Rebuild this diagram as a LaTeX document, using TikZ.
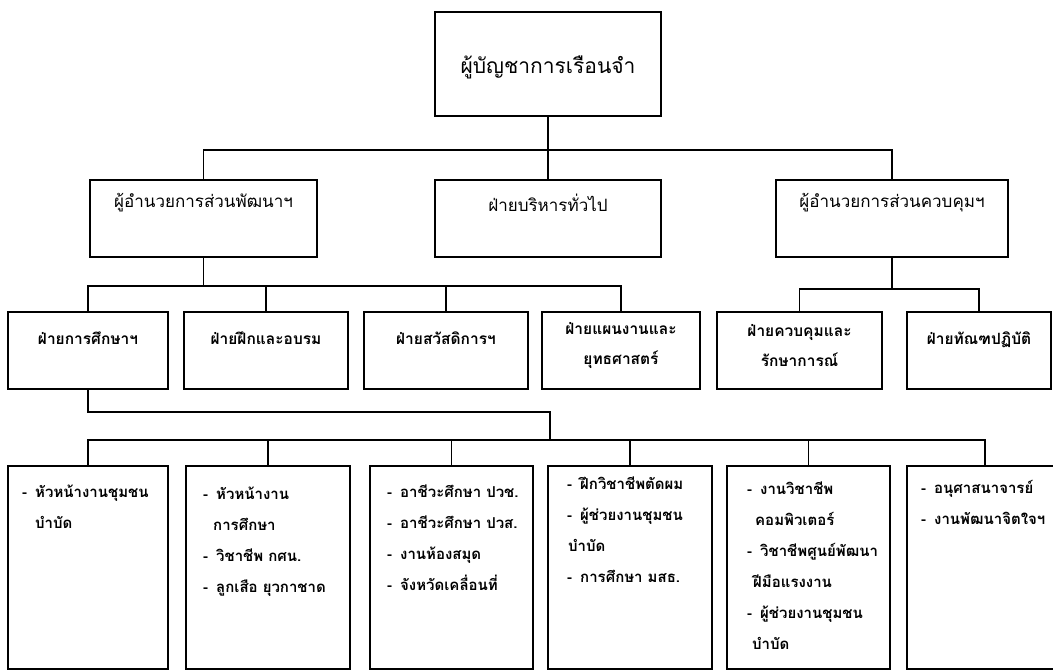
\documentclass[tikz,border=0pt]{standalone}
\usepackage{fontspec}
\newfontfamily\thai[Script=Thai]{Loma}
\usetikzlibrary{calc}

% bullet and continuation indents for the task lists
\newcommand\bl{\makebox[13pt][l]{-}}
\newcommand\ind[1]{\hspace*{#1pt}}

\tikzset{
  box/.style={draw, line width=1.3pt, inner sep=0pt},
  link/.style={line width=1.3pt},
  tone/.style={font=\thai\fontsize{21}{26}\selectfont, inner sep=0pt},
  ttwo/.style={font=\thai\fontsize{17}{22}\selectfont, inner sep=0pt},
  tthree/.style={font=\thai\bfseries\fontsize{15.5}{30}\selectfont, inner sep=0pt, align=center},
  tfour/.style={font=\thai\bfseries\fontsize{15}{31}\selectfont, inner sep=0pt, anchor=base west},
}

\begin{document}
\begin{tikzpicture}[x=1pt, y=-1pt]
\useasboundingbox (0,0) rectangle (1053,671);
\clip (0,0) rectangle (1053,671);

% ---- boxes ----
\node[box, minimum width=226, minimum height=104] (top) at (548,64) {};

\node[box, minimum width=227, minimum height=77] (A) at (203.5,218.5) {};
\node[box, minimum width=226, minimum height=77] (B) at (548,218.5) {};
\node[box, minimum width=232, minimum height=77] (C) at (892,218.5) {};

\node[box, minimum width=160, minimum height=77] (L1) at (88,350.5) {};
\node[box, minimum width=164, minimum height=77] (L2) at (266,350.5) {};
\node[box, minimum width=164, minimum height=77] (L3) at (446,350.5) {};
\node[box, minimum width=158, minimum height=77] (L4) at (621,350.5) {};
\node[box, minimum width=165, minimum height=77] (L5) at (799.5,350.5) {};
\node[box, minimum width=144, minimum height=77] (L6) at (979,350.5) {};

\node[box, minimum width=160, minimum height=203] (M1) at (88,567.5) {};
\node[box, minimum width=164, minimum height=203] (M2) at (268,567.5) {};
\node[box, minimum width=163, minimum height=203] (M3) at (451.5,567.5) {};
\node[box, minimum width=164, minimum height=203] (M4) at (630,567.5) {};
\node[box, minimum width=163, minimum height=203] (M5) at (808.5,567.5) {};
\node[box, minimum width=156, minimum height=203] (M6) at (985,567.5) {};

% ---- connectors ----
\coordinate (bus1) at (548,150);
\draw[link] (top.south) -- (B.north);
\draw[link] (A.north) |- (bus1) -| (C.north);

\coordinate (bus2) at (203.5,286);
\draw[link] (A.south) -- (bus2);
\draw[link] (L1.north) |- (bus2) -| (L4.north);
\draw[link] (L2.north) -- (L2.north |- bus2);
\draw[link] (L3.north) -- (L3.north |- bus2);

\coordinate (bus3) at (892,289);
\draw[link] (C.south) -- (bus3);
\draw[link] (L5.north) |- (bus3) -| (L6.north);

\coordinate (j1) at (550,412);
\coordinate (bus4) at (550,440);
\draw[link] (L1.south) |- (j1) -- (bus4);
\draw[link] (M1.north) |- (bus4) -| (M6.north);
\foreach \m in {M2,M3,M4,M5}
  \draw[link] (\m.north) -- (\m.north |- bus4);

% ---- labels ----
\node[tone] (t0) at (548,67) {ผู้บัญชาการเรือนจำ};

\node[ttwo] (tA) at (203.5,203) {ผู้อำนวยการส่วนพัฒนาฯ};
\node[ttwo] (tB) at (548,203) {ฝ่ายบริหารทั่วไป};
\node[ttwo] (tC) at (892,203) {ผู้อำนวยการส่วนควบคุมฯ};

\node[tthree] (t1) at (88,338) {ฝ่ายการศึกษาฯ};
\node[tthree] (t2) at (266,338) {ฝ่ายฝึกและอบรม};
\node[tthree] (t3) at (446,338) {ฝ่ายสวัสดิการฯ};
\node[tthree] (t4) at (621,346) {ฝ่ายแผนงานและ\\ยุทธศาสตร์};
\node[tthree] (t5) at (799.5,346) {ฝ่ายควบคุมและ\\รักษาการณ์};
\node[tthree] (t6) at (979,340) {ฝ่ายทัณฑปฏิบัติ};

\node[tfour] (u1) at (22,497) {\begin{tabular}[t]{@{}l@{}}
\bl หัวหน้างานชุมชน\\ \ind{13}บำบัด\end{tabular}};
\node[tfour] (u2) at (203,499) {\begin{tabular}[t]{@{}l@{}}
\bl หัวหน้างาน\\ \ind{10}การศึกษา\\ \bl วิชาชีพ กศน.\\ \bl ลูกเสือ ยุวกาชาด\end{tabular}};
\node[tfour] (u3) at (387,497) {\begin{tabular}[t]{@{}l@{}}
\bl อาชีวะศึกษา ปวช.\\ \bl อาชีวะศึกษา ปวส.\\ \bl งานห้องสมุด\\ \bl จังหวัดเคลื่อนที่\end{tabular}};
\node[tfour] (u4) at (567,489) {\begin{tabular}[t]{@{}l@{}}
\bl ฝึกวิชาชีพตัดผม\\ \bl ผู้ช่วยงานชุมชน\\ \ind{1}บำบัด\\ \bl การศึกษา มสธ.\end{tabular}};
\node[tfour] (u5) at (747,494) {\begin{tabular}[t]{@{}l@{}}
\bl งานวิชาชีพ\\ \ind{8}คอมพิวเตอร์\\ \bl วิชาชีพศูนย์พัฒนา\\ \ind{6}ฝีมือแรงงาน\\ \bl ผู้ช่วยงานชุมชน\\ \ind{5}บำบัด\end{tabular}};
\node[tfour] (u6) at (921,493) {\begin{tabular}[t]{@{}l@{}}
\bl อนุศาสนาจารย์\\ \bl งานพัฒนาจิตใจฯ\end{tabular}};
\end{tikzpicture}
\end{document}
